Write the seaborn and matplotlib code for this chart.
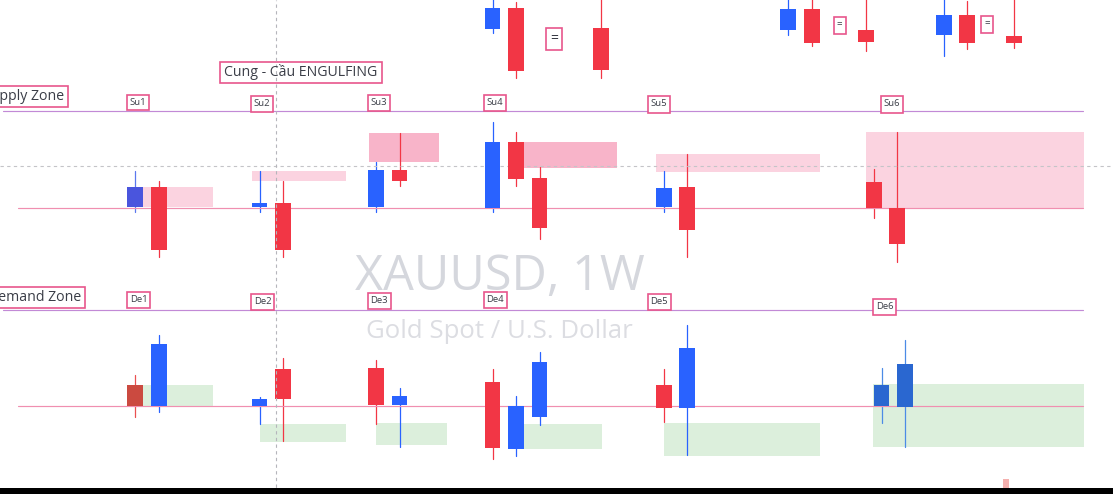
import matplotlib
matplotlib.use("Agg")
import matplotlib.pyplot as plt
from matplotlib.patches import Rectangle
import pandas as pd
import seaborn as sns

# ---- candle values (chart units, y grows downward) ----
candle_x = [492.5, 516, 601, 788, 812, 866, 944, 967, 1014,
            135, 159, 259.5, 283, 376, 399.5, 492.5, 516, 539.5, 664, 687, 874, 897,
            135, 159, 259.5, 283, 376, 399.5, 492.5, 516, 539.5, 664, 687, 881.5, 905]
body_top = [8.3, 8.3, 28, 9.5, 9.5, 30, 15.5, 15.5, 36,
            187, 187, 203, 203, 170, 170, 141.5, 142, 178, 187.5, 187, 182, 208,
            385, 343.7, 399, 369.3, 368, 395.7, 381.7, 406, 362, 385.3, 347.7, 385, 364]
body_bottom = [28.7, 71, 70.5, 30, 43.5, 42.5, 35, 43.5, 43,
               207, 250, 207, 250, 207, 181, 208, 178.5, 228, 207, 229.5, 208, 244,
               405.7, 406, 405.7, 399, 405, 404.7, 448, 448.7, 417, 408.3, 408.3, 406, 406.7]
wick_top = [-2, 2.5, -2, -2, -2, -2, -2, 1, -2,
            171, 181, 171, 181, 162, 133, 122, 132, 167, 171, 154, 169, 132,
            375, 335, 396.7, 358, 360, 388, 369, 396, 352, 369, 325, 368, 339.7]
wick_bottom = [33, 78, 78, 35, 46, 51, 56, 49, 48.5,
               212, 257, 212, 257, 212, 186, 212, 186, 239, 212, 257, 218, 262,
               417, 412, 424, 441, 424, 446.7, 459, 455.7, 425, 422, 455, 422.7, 447]
candle_kind = ["up", "down", "down", "up", "down", "down", "up", "down", "down",
               "up_pink", "down", "up", "down", "up", "down", "up", "down", "down", "up", "down", "down", "down",
               "down_green", "up", "up", "down", "down", "up", "down", "up", "up", "down", "up", "up_green", "up_green"]

# ---- zones ----
zone_left = [127, 252, 368.5, 508, 656, 866, 127, 260, 376, 524, 664, 873]
zone_right = [213, 345.5, 438.5, 617, 819.5, 1084, 213, 345.5, 446.5, 602, 819.5, 1084]
zone_top = [187, 171, 133, 142, 154, 132, 385, 424.3, 423.3, 424.3, 423, 384]
zone_bottom = [206.5, 181, 162, 168, 171.5, 208, 406, 442, 444.7, 448.7, 455.7, 447]
zone_kind = ["pink", "pink", "rose", "rose", "pink", "pink",
             "green", "green", "green", "green", "green", "green"]

# ---- labels ----
label_text = ["Su1", "Su2", "Su3", "Su4", "Su5", "Su6",
              "De1", "De2", "De3", "De4", "De5", "De6",
              "=", "=", "=",
              "Cung - Cầu ENGULFING", "Supply Zone", "Demand Zone"]
label_left = [127, 251, 367.5, 484, 647.5, 881, 127, 251, 367.5, 484, 647.5, 873, 546, 834, 981, 220, -30, -13]
label_right = [148.5, 273, 390, 506, 669.6, 903, 150, 274, 390.5, 506.7, 671, 896, 562, 845.5, 993, 382, 68, 85]
label_top = [95, 96, 95, 95, 96, 96, 292, 293.5, 293, 292, 294, 299, 28, 17, 16, 62, 86, 287]
label_bottom = [110, 112, 111, 111, 112.5, 112.5, 308, 310, 309, 307.5, 310, 315, 50, 34, 33, 83, 107, 308]

# ---- horizontal levels ----
level_y = [111, 208, 309.5, 406]
level_start = [3, 18, 3, 18]
level_end = [1083, 1083, 1083, 1083]
level_kind = ["purple", "pink", "purple", "pink"]

BLUE, RED = "#2962ff", "#f23645"
candle_palette = {"up": BLUE, "down": RED, "up_pink": "#4a55dd",
                  "down_green": "#cb4a40", "up_green": "#2a67d0"}
wick_palette = {"up": BLUE, "down": RED, "up_pink": "#5b78ee",
                "down_green": "#ea5050", "up_green": "#4c8be6"}
zone_palette = {"pink": "#fbd3e0", "rose": "#f8b4c9", "green": "#dcefdc"}
level_palette = {"purple": "#c28ad6", "pink": "#f08fb0"}
BOX_EDGE = "#e8568c"
FONT = "Open Sans"

sns.set_theme(style="white")
plt.rcParams["font.family"] = [FONT, "DejaVu Sans"]

fig, ax = plt.subplots(figsize=(11.13, 4.94), dpi=100)
ax.set_position([0, 0, 1, 1])
ax.set_facecolor("white")

# zones
for l, r, t, b, k in zip(zone_left, zone_right, zone_top, zone_bottom, zone_kind):
    ax.add_patch(Rectangle((l, t), r - l, b - t, facecolor=zone_palette[k], edgecolor="none", zorder=1))

# wicks via seaborn
wicks = pd.DataFrame({
    "x": candle_x + candle_x,
    "y": wick_top + wick_bottom,
    "id": list(range(len(candle_x))) * 2,
    "kind": candle_kind + candle_kind,
})
sns.lineplot(data=wicks, x="x", y="y", hue="kind", units="id", estimator=None, sort=False,
             palette=wick_palette, linewidth=0.9, legend=False, ax=ax, zorder=2)

# horizontal levels via seaborn
levels = pd.DataFrame({
    "x": level_start + level_end,
    "y": level_y + level_y,
    "id": list(range(len(level_y))) * 2,
    "kind": level_kind + level_kind,
})
sns.lineplot(data=levels, x="x", y="y", hue="kind", units="id", estimator=None, sort=False,
             palette=level_palette, linewidth=0.85, legend=False, ax=ax, zorder=2.6)

# bodies
ax.bar(candle_x, [b - t for t, b in zip(body_top, body_bottom)], bottom=body_top, width=15.5,
       color=[candle_palette[k] for k in candle_kind], linewidth=0, zorder=3)

# watermark
ax.text(499.5, 277, "XAUUSD, 1W", fontsize=35, color="#d5d7dd", ha="center", va="center", zorder=0)
ax.text(499, 331, "Gold Spot / U.S. Dollar", fontsize=18.5, color="#dcdde2", ha="center", va="center", zorder=0)

# crosshair
ax.axvline(275.5, color="#b5b5bb", lw=0.8, ls=(0, (3, 3)), zorder=6)
ax.axhline(166.5, color="#c4c4c8", lw=0.8, ls=(0, (3, 3)), zorder=2.5)

# label boxes
for s, l, r, t, b in zip(label_text, label_left, label_right, label_top, label_bottom):
    ax.add_patch(Rectangle((l, t), r - l, b - t, facecolor="white", edgecolor=BOX_EDGE, linewidth=1.2, zorder=5))
    big = len(s) > 3
    if s == "=":
        size = 10 if r - l > 14 else 7
    else:
        size = 10.2 if big else 6.8
    if s.endswith("Zone"):
        ax.text(r - 3.5, (t + b) / 2 - 0.5, s, fontsize=size, color="#3a3d47", ha="right", va="center", zorder=7)
    else:
        ax.text((l + r) / 2, (t + b) / 2 - 0.5, s, fontsize=size, color="#3a3d47", ha="center", va="center", zorder=7)

# bottom strip
ax.axhspan(488, 494, color="black", lw=0, zorder=8)
ax.add_patch(Rectangle((1002.5, 479.3), 6.5, 8.7, facecolor="#f5b0ae", edgecolor="none", zorder=3))

ax.set_xlim(0, 1113)
ax.set_ylim(494, 0)
ax.set_xlabel("")
ax.set_ylabel("")
ax.set_xticks([])
ax.set_yticks([])
sns.despine(ax=ax, left=True, bottom=True)

fig.savefig("out.png", dpi=100)
